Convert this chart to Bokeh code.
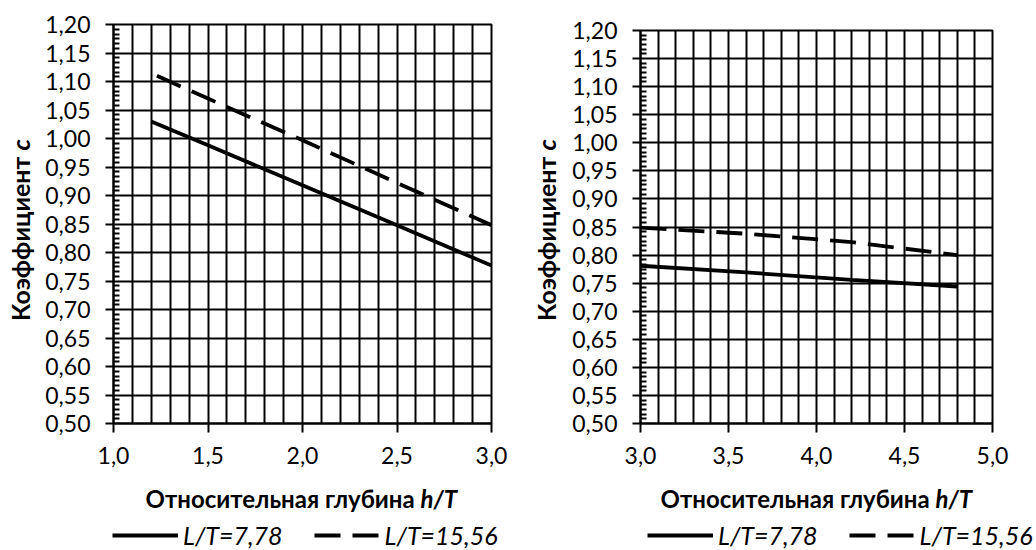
import math
from bokeh.plotting import figure
from bokeh.layouts import row, column
from bokeh.models import (Range1d, FixedTicker, CustomJSTickFormatter, Label,
                          Legend, LegendItem)
from bokeh.embed import file_html
from bokeh.resources import INLINE

FONT = "Lato"

# ---------------- data ----------------
y_ticks = [0.50, 0.55, 0.60, 0.65, 0.70, 0.75, 0.80, 0.85, 0.90, 0.95,
           1.00, 1.05, 1.10, 1.15, 1.20]

left_x_ticks = [1.0, 1.5, 2.0, 2.5, 3.0]
right_x_ticks = [3.0, 3.5, 4.0, 4.5, 5.0]

series_names = ["L/T=7,78", "L/T=15,56"]

# left panel (h/T from 1 to 3)
left_x_778 = [1.2, 1.5, 2.0, 2.5, 3.0]
left_c_778 = [1.030, 0.988, 0.918, 0.848, 0.777]
left_x_1556 = [1.23, 1.5, 2.0, 2.5, 3.0]
left_c_1556 = [1.110, 1.070, 0.997, 0.922, 0.848]

# right panel (h/T from 3 to 5)
right_x_778 = [3.0, 3.6, 4.2, 4.8]
right_c_778 = [0.781, 0.769, 0.756, 0.744]
right_x_1556 = [3.0, 3.6, 4.2, 4.8]
right_c_1556 = [0.849, 0.838, 0.823, 0.800]

x_title_main = "Относительная глубина "
x_title_ital = "h/T"
y_title_main = "Коэффициент "
y_title_ital = "c"

TOP_H = 475
BOT_H = 75
FRAME_BOTTOM = 423
LINE_W = 3.8
DASH = "26 12"


def blank(width, height):
    f = figure(width=width, height=height, output_backend="svg",
               toolbar_location=None, x_axis_location=None,
               y_axis_location=None, x_range=Range1d(0, 1),
               y_range=Range1d(0, 1), min_border=0)
    f.outline_line_color = None
    f.grid.visible = False
    f.background_fill_color = "white"
    f.border_fill_color = "white"
    return f


def lab(size):
    return dict(x_units="screen", y_units="screen", text_font=FONT,
                text_font_size=size, text_color="black",
                text_baseline="middle")


def make_panel(x0, x1, xticks, xs, ys, yt_w, width, bl, br, bt,
               yt_x, bot_w, xjunc, leg_x):
    # y title strip (its frame is aligned with the plot frame by the row)
    yt = blank(yt_w, TOP_H)
    yj = FRAME_BOTTOM - 150
    yt.add_layout(Label(x=yt_x, y=yj, text=y_title_main, text_align="right",
                        angle=math.pi / 2, text_font_style="bold",
                        **lab("25px")))
    yt.add_layout(Label(x=yt_x, y=yj, text=y_title_ital, text_align="left",
                        angle=math.pi / 2, text_font_style="bold italic",
                        **lab("25px")))

    p = figure(width=width, height=TOP_H, output_backend="svg",
               toolbar_location=None,
               x_range=Range1d(x0, x1), y_range=Range1d(0.5, 1.2),
               min_border_left=bl, min_border_right=br,
               min_border_top=bt, min_border_bottom=TOP_H - FRAME_BOTTOM)
    p.outline_line_color = "black"
    p.outline_line_width = 2
    p.background_fill_color = "white"
    p.border_fill_color = "white"

    n = int(round((x1 - x0) / 0.1))
    vgrid = [round(x0 + 0.1 * i, 2) for i in range(n + 1)]
    p.xgrid.ticker = FixedTicker(ticks=vgrid)
    p.ygrid.ticker = FixedTicker(ticks=y_ticks)
    for g in (p.xgrid, p.ygrid):
        g.grid_line_color = "black"
        g.grid_line_width = 2

    minor = []
    for i in range(len(y_ticks) - 1):
        for k in range(1, 6):
            minor.append(y_ticks[i] + (y_ticks[i + 1] - y_ticks[i]) * k / 6)
    p.yaxis.ticker = FixedTicker(ticks=y_ticks, minor_ticks=minor)
    p.xaxis.ticker = FixedTicker(ticks=xticks)
    p.yaxis.formatter = CustomJSTickFormatter(
        code="return tick.toFixed(2).replace('.', ',')")
    p.xaxis.formatter = CustomJSTickFormatter(
        code="return tick.toFixed(1).replace('.', ',')")
    for ax in (p.xaxis, p.yaxis):
        ax.axis_line_color = "black"
        ax.axis_line_width = 2
        ax.major_tick_line_color = "black"
        ax.major_tick_line_width = 2
        ax.minor_tick_line_color = "black"
        ax.minor_tick_line_width = 2
        ax.major_label_text_font = FONT
        ax.major_label_text_font_size = "23px"
        ax.major_label_text_color = "black"
    p.yaxis.major_tick_in = 0
    p.yaxis.major_tick_out = 8
    p.yaxis.minor_tick_in = 6
    p.yaxis.minor_tick_out = 0
    p.yaxis.major_label_standoff = 15
    p.xaxis.major_tick_in = 0
    p.xaxis.major_tick_out = 9
    p.xaxis.major_label_standoff = 14

    p.line(xs[0], ys[0], line_color="black", line_width=LINE_W)
    p.line(xs[1], ys[1], line_color="black", line_width=LINE_W,
           line_dash=DASH)

    # x title + legend strip
    bot = blank(bot_w, BOT_H)
    bot.add_layout(Label(x=xjunc, y=52, text=x_title_main, text_align="right",
                         text_font_style="bold", **lab("24px")))
    bot.add_layout(Label(x=xjunc, y=52, text=x_title_ital, text_align="left",
                         text_font_style="bold italic", **lab("24px")))
    g1 = bot.line(xs[0], ys[0], line_color="black", line_width=LINE_W,
                  visible=False)
    g2 = bot.line(xs[1], ys[1], line_color="black", line_width=LINE_W,
                  line_dash=DASH, visible=False)
    legend = Legend(items=[LegendItem(label=series_names[0], renderers=[g1]),
                           LegendItem(label=series_names[1], renderers=[g2])],
                    location=(leg_x, 0), orientation="horizontal",
                    glyph_width=66, glyph_height=20, label_standoff=5,
                    spacing=31, padding=0, margin=0,
                    border_line_color=None, background_fill_alpha=0,
                    label_text_font=FONT, label_text_font_style="italic",
                    label_text_font_size="25px", label_text_color="black")
    bot.add_layout(legend)
    return column(row(yt, p, spacing=0), bot, spacing=0)


# left panel spans x 0..528, right panel 528..1034
left = make_panel(1.0, 3.0, left_x_ticks,
                  (left_x_778, left_x_1556), (left_c_778, left_c_1556),
                  36, 492, 77, 37, 24, 19, 528, 420, 112)
right = make_panel(3.0, 5.0, right_x_ticks,
                   (right_x_778, right_x_1556), (right_c_778, right_c_1556),
                   36, 470, 76, 42, 30, 17, 506, 407, 119)

layout = row(left, right, spacing=0)
open("out.html", "w").write(file_html(layout, INLINE))
